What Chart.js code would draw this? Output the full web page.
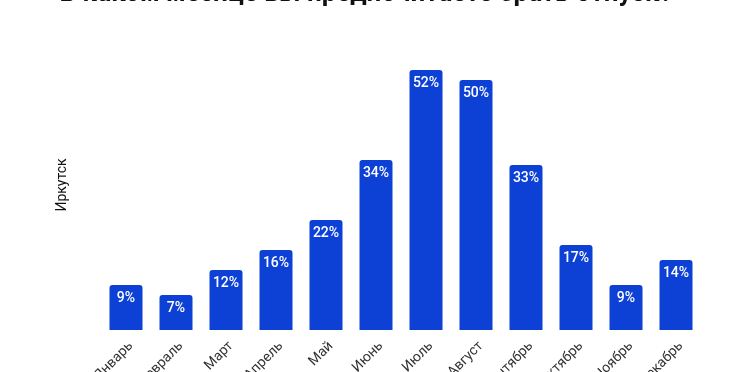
<!DOCTYPE html>
<html>
<head>
<meta charset="utf-8">
<script src="https://cdn.jsdelivr.net/npm/chart.js@4/dist/chart.umd.min.js"></script>
<style>
    html, body { margin: 0; padding: 0; background: #ffffff; overflow: hidden; }
    #wrap { position: relative; width: 732px; height: 372px; }
</style>
</head>
<body>
<div id="wrap"><canvas id="chart"></canvas></div>
<script>
const chartTitle = 'В каком месяце вы предпочитаете брать отпуск?';
const seriesName = 'Иркутск';
const months = ['Январь', 'Февраль', 'Март', 'Апрель', 'Май', 'Июнь', 'Июль', 'Август', 'Сентябрь', 'Октябрь', 'Ноябрь', 'Декабрь'];
const shares = [9, 7, 12, 16, 22, 34, 52, 50, 33, 17, 9, 14];

const barColor = '#0d40d5';
const fontFamily = 'Roboto, "Noto Sans", sans-serif';

// title sits partly above the canvas, so it is drawn by hand
const titlePlugin = {
    id: 'cutTitle',
    afterDraw(chart) {
        const ctx = chart.ctx;
        ctx.save();
        ctx.font = 'bold 26px ' + fontFamily;
        ctx.fillStyle = '#111111';
        ctx.textAlign = 'center';
        ctx.textBaseline = 'alphabetic';
        ctx.fillText(chartTitle, 366, 1);
        ctx.restore();
    }
};

// percent labels inside the top of each bar
const valueLabels = {
    id: 'valueLabels',
    afterDatasetsDraw(chart) {
        const ctx = chart.ctx;
        const meta = chart.getDatasetMeta(0);
        ctx.save();
        ctx.font = '500 14px ' + fontFamily;
        ctx.fillStyle = '#ffffff';
        ctx.textAlign = 'center';
        ctx.textBaseline = 'middle';
        meta.data.forEach((bar, i) => {
            ctx.fillText(shares[i] + '%', bar.x, bar.y + 13);
        });
        ctx.restore();
    }
};

new Chart(document.getElementById('chart'), {
    type: 'bar',
    data: {
        labels: months,
        datasets: [{
            label: seriesName,
            data: shares,
            backgroundColor: barColor,
            borderWidth: 0,
            borderRadius: { topLeft: 3, topRight: 3, bottomLeft: 0, bottomRight: 0 },
            borderSkipped: false,
            barPercentage: 0.66,
            categoryPercentage: 1
        }]
    },
    options: {
        responsive: true,
        maintainAspectRatio: false,
        animation: false,
        layout: {
            padding: { left: 54, right: 31, top: 40, bottom: 0 }
        },
        plugins: {
            legend: { display: false },
            tooltip: { enabled: false },
            title: { display: false }
        },
        scales: {
            x: {
                grid: { display: false, drawTicks: false },
                border: { display: false },
                ticks: {
                    minRotation: 45,
                    maxRotation: 45,
                    autoSkip: false,
                    padding: 8,
                    labelOffset: 5,
                    color: '#333333',
                    font: { family: fontFamily, size: 14 }
                },
                afterFit(scale) { scale.height = 42; }
            },
            y: {
                min: 0,
                max: 58,
                grid: { display: false, drawTicks: false },
                border: { display: false },
                ticks: { display: false },
                title: {
                    display: true,
                    text: seriesName,
                    color: '#111111',
                    padding: 0,
                    font: { family: fontFamily, size: 14 }
                },
                afterFit(scale) { scale.width = 47; }
            }
        }
    },
    plugins: [titlePlugin, valueLabels]
});
</script>
</body>
</html>
